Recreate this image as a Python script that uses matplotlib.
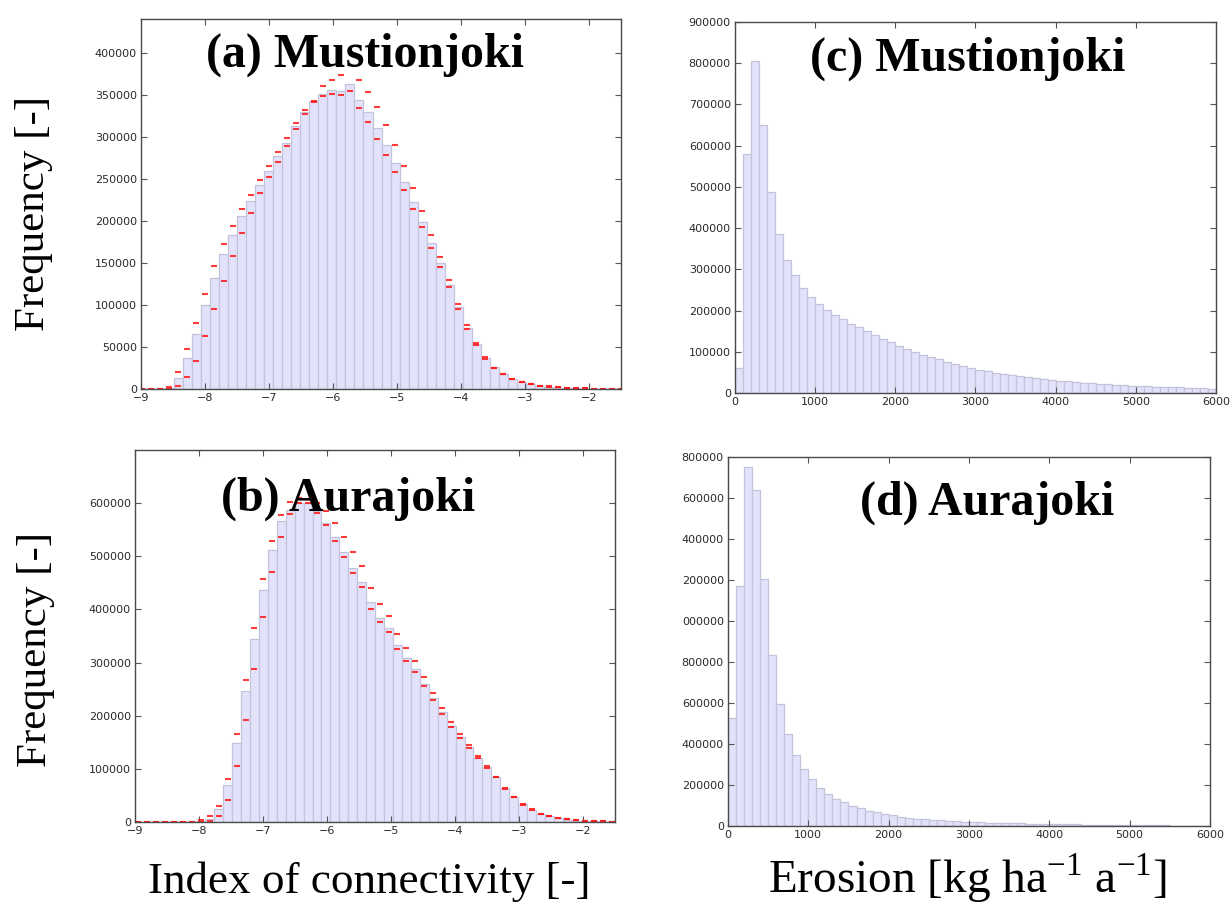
import matplotlib
matplotlib.use("Agg")
import matplotlib.pyplot as plt
import numpy as np
from matplotlib.ticker import FuncFormatter

# ---- index of connectivity histograms (bin start, bin width, counts, red min/max markers)
a_bin0, a_binw = -9.05, 0.1411
a_counts = [0, 0, 0, 1000, 13500, 37000, 65000, 99400, 132200, 160700,
            183300, 205500, 223700, 242300, 258900, 276700, 293000, 312700, 329700, 342400,
            350700, 355500, 354300, 362200, 343600, 329700, 310400, 290200, 269200, 246000,
            222900, 199100, 173400, 149600, 123100, 97400, 72000, 53400, 36800, 26100,
            18200, 11900, 8300, 5900, 4000, 2400, 1600, 1100, 800, 500,
            300, 200, 100, 100]
a_upper = [0, 0, 500, 2400, 19800, 47300, 78000, 112800, 146500, 172200,
           194400, 213800, 231200, 248600, 265200, 281900, 298500, 315900, 331400, 342800,
           360200, 367400, 373700, np.nan, 367400, 353500, 335000, 313900, 290200, 265200,
           239500, 211800, 183300, 156800, 129000, 101300, 76000, 55000, 38000, 25300,
           18000, 11900, 8000, 5900, 4000, 3000, 2000, 1500, 1000, 800,
           500, 400, 300, 200]
a_lower = [0, 0, 0, 0, 3000, 13900, 33200, 63300, 95400, 128700,
           158000, 186000, 209800, 232800, 252200, 270000, 289200, 308800, 327000, 340900,
           348800, 351100, 349600, 354000, 334500, 317500, 297700, 278700, 258300, 236300,
           214200, 192400, 168200, 145300, 120700, 95000, 71600, 51800, 36000, 25300,
           17500, 11500, 7800, 5600, 3800, 2600, 1800, 1300, 900, 700,
           400, 300, 200, 100]

b_bin0, b_binw = -9.02, 0.1397
b_counts = [0, 0, 0, 0, 0, 0, 0, 1500, 6300, 24000,
            69300, 148000, 247000, 344500, 437000, 512600, 566000, 588000, 601000, 600500,
            585000, 563600, 537200, 508800, 477300, 452100, 413100, 384100, 364600, 333100,
            309200, 287800, 260100, 233600, 207000, 181000, 160000, 140800, 121200, 102600,
            84400, 64900, 48000, 34300, 23300, 15700, 10700, 7300, 4600, 2800,
            2000, 1300, 900, 500]
b_upper = [0, 0, 0, 0, 0, 0, 0, 3200, 10800, 29700,
           80700, 165700, 267100, 364600, 458200, 528000, 578000, 603000, 609000, 607800,
           600000, 584500, 563600, 537200, 508200, 481700, 440800, 410000, 387900, 353300,
           326800, 302300, 272700, 243700, 214000, 187600, 165700, 145500, 124100, 105200,
           84500, 64900, 47300, 33500, 23600, 15800, 11400, 8200, 5700, 3800,
           1900, 1300, 1300, 600]
b_lower = [0, 0, 0, 0, 0, 0, 0, 300, 2600, 11400,
           42300, 105200, 192700, 287900, 386000, 470700, 536600, 579500, 600500, 600500,
           581500, 558300, 529000, 498500, 467900, 441400, 401800, 376000, 357000, 326200,
           302900, 282100, 255700, 229800, 202800, 178200, 158100, 138600, 119700, 102000,
           83800, 63000, 46800, 32500, 23000, 15200, 10800, 7500, 5200, 3500,
           1700, 1200, 1000, 500]

# ---- erosion histograms, 100 kg/ha/a bins from 0 to 6000
ero_binw = 100
c_counts = [59800, 580000, 806000, 649000, 488000, 384500, 323000, 286000, 255000, 233400,
            215700, 201000, 189800, 178500, 167200, 159100, 150200, 141400, 131700, 122800,
            114700, 107400, 100200, 92100, 86400, 81600, 75100, 69500, 65400, 61400,
            56500, 52500, 49300, 46800, 43600, 41200, 38000, 35500, 33100, 31500,
            29900, 28300, 26700, 25000, 23400, 21800, 21000, 20200, 19400, 17800,
            17000, 16200, 15300, 14500, 13700, 13700, 12900, 12100, 11300, 10500]
d_counts = [527000, 1170600, 1749000, 1639500, 1204500, 836000, 595000, 448000, 347600, 276500,
            228000, 187600, 156800, 134200, 114800, 97000, 85700, 74400, 66300, 58200,
            51700, 43700, 40400, 35600, 32300, 29100, 27500, 25900, 22600, 21000,
            19400, 17800, 16200, 14600, 14600, 13000, 12900, 11300, 11300, 9700,
            9700, 8100, 8100, 8100, 6500, 6500, 6500, 4900, 4900, 4900,
            3200, 3200, 3000, 2800, 2600, 2400, 2300, 2200, 2100, 2000]

titles = ["(a) Mustionjoki", "(b) Aurajoki", "(c) Mustionjoki", "(d) Aurajoki"]

BAR_FACE = "#e2e3fa"
BAR_EDGE = "#c3c4dc"
SERIF = "Liberation Serif"

plt.rcParams["font.family"] = "DejaVu Sans"
plt.rcParams["mathtext.fontset"] = "custom"
plt.rcParams["mathtext.rm"] = SERIF

fig = plt.figure(figsize=(12.32, 9.09), dpi=100)
ax_a = fig.add_axes([0.1144, 0.5721, 0.3896, 0.4070])
ax_b = fig.add_axes([0.1096, 0.0957, 0.3896, 0.4092])
ax_c = fig.add_axes([0.5966, 0.5677, 0.3904, 0.4081])
ax_d = fig.add_axes([0.5909, 0.0913, 0.3912, 0.4059])


def style(ax):
    for s in ax.spines.values():
        s.set_color("#4a4a4a")
        s.set_linewidth(1.0)
    ax.tick_params(direction="in", top=True, right=True, length=4, width=0.8,
                   color="#555555", labelsize=8, labelcolor="#2a2a2a", pad=3)


def draw_ic(ax, x0, w, counts, upper, lower, ytop, ystep):
    counts = np.asarray(counts, float)
    left = x0 + w * np.arange(len(counts))
    ax.bar(left, counts, width=w, align="edge", color=BAR_FACE,
           edgecolor=BAR_EDGE, linewidth=0.9)
    centers = left + w / 2
    for vals in (upper, lower):
        ax.plot(centers, vals, linestyle="none", marker="_", color="#ff1a1a",
                markersize=4, markeredgewidth=1.5, alpha=0.85)
    ax.set_xlim(-9, -1.5)
    ax.set_ylim(0, ytop)
    ax.set_xticks(np.arange(-9, -1, 1))
    ax.set_yticks(np.arange(0, ytop, ystep))
    style(ax)


def draw_ero(ax, counts, ytop, ystep, cropped=False):
    counts = np.asarray(counts, float)
    left = ero_binw * np.arange(len(counts))
    ax.bar(left, counts, width=ero_binw, align="edge", color=BAR_FACE,
           edgecolor=BAR_EDGE, linewidth=0.9)
    ax.set_xlim(0, 6000)
    ax.set_ylim(0, ytop)
    ax.set_xticks(np.arange(0, 6001, 1000))
    ax.set_yticks(np.arange(0, ytop + 1, ystep))
    if cropped:
        # the left digit of the 7-digit labels is cut off in the source figure
        ax.yaxis.set_major_formatter(FuncFormatter(lambda v, p: f"{int(round(v))}"[-6:]))
    style(ax)


draw_ic(ax_a, a_bin0, a_binw, a_counts, a_upper, a_lower, 440000, 50000)
draw_ic(ax_b, b_bin0, b_binw, b_counts, b_upper, b_lower, 700000, 100000)
draw_ero(ax_c, c_counts, 900000, 100000)
draw_ero(ax_d, d_counts, 1800000, 200000, cropped=True)

title_pos = [(ax_a, 0.467, 0.871), (ax_b, 0.445, 0.836), (ax_c, 0.484, 0.868), (ax_d, 0.537, 0.843)]
for (ax, tx, ty), t in zip(title_pos, titles):
    ax.text(tx, ty, t, transform=ax.transAxes, ha="center", va="baseline",
            fontsize=34.5, fontweight="bold", family=SERIF)

fig.text(0.027, 0.765, "Frequency [-]", rotation=90, ha="center", va="center",
         fontsize=31, family=SERIF)
fig.text(0.029, 0.285, "Frequency [-]", rotation=90, ha="center", va="center",
         fontsize=31, family=SERIF)
fig.text(0.300, 0.0176, "Index of connectivity [-]", ha="center", va="baseline",
         fontsize=32.5, family=SERIF)
fig.text(0.785, 0.0176, r"Erosion [kg ha$^{\mathregular{-1}}$ a$^{\mathregular{-1}}$]",
         ha="center", va="baseline", fontsize=34, family=SERIF)

fig.savefig("out.png", dpi=100)
